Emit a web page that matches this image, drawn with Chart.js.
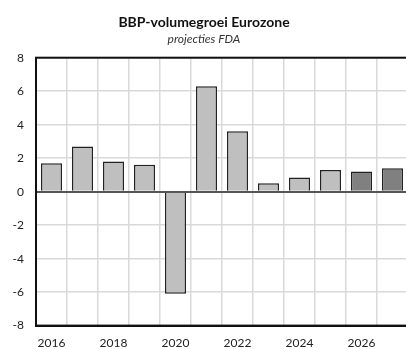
<!DOCTYPE html>
<html lang="nl">
<head>
    <meta charset="UTF-8">
    <title>BBP-volumegroei Eurozone</title>
    <script src="https://cdn.jsdelivr.net/npm/chart.js"></script>
    <style>
        html, body {
            margin: 0;
            padding: 0;
            background: #fff;
            overflow: hidden;
        }
        .chart-container {
            position: relative;
            width: 408px;
            height: 349px;
        }
    </style>
</head>
<body>

<div class="chart-container">
    <canvas id="myChart"></canvas>
</div>

<script>
    const years = ['2016', '2017', '2018', '2019', '2020', '2021', '2022', '2023', '2024', '2025', '2026', '2027'];
    const growth = [1.7, 2.7, 1.8, 1.6, -6.1, 6.3, 3.6, 0.5, 0.85, 1.3, 1.2, 1.4];
    const projected = [false, false, false, false, false, false, false, false, false, false, true, true];
    const yTicks = { min: -8, max: 8, step: 2 };

    // kader rond plotgebied (boven + rechts)
    const frame = {
        id: 'frame',
        afterDraw(chart) {
            const a = chart.chartArea;
            const c = chart.ctx;
            c.save();
            c.strokeStyle = '#111';
            c.lineWidth = 2;
            c.strokeRect(a.left, a.top, a.right - a.left, a.bottom - a.top);
            c.restore();
        }
    };

    Chart.defaults.font.family = 'Lato, "DejaVu Sans", sans-serif';
    Chart.defaults.color = '#222';

    new Chart(document.getElementById('myChart'), {
        type: 'bar',
        data: {
            labels: years,
            datasets: [{
                data: growth,
                backgroundColor: projected.map(p => p ? '#808080' : '#bfbfbf'),
                borderColor: '#222',
                borderWidth: 1.5,
                categoryPercentage: 1,
                barPercentage: 0.68
            }]
        },
        options: {
            responsive: true,
            maintainAspectRatio: false,
            animation: false,
            layout: { padding: { left: 0, right: 0, top: 6, bottom: -11 } },
            plugins: {
                legend: { display: false },
                tooltip: { enabled: false },
                title: {
                    display: true,
                    text: 'BBP-volumegroei Eurozone',
                    font: { size: 14, weight: 'bold' },
                    color: '#111',
                    padding: { top: 8, bottom: 1 }
                },
                subtitle: {
                    display: true,
                    text: 'projecties FDA',
                    font: { size: 12, style: 'italic' },
                    color: '#333',
                    padding: { top: 0, bottom: 11.5 }
                }
            },
            scales: {
                x: {
                    grid: {
                        offset: true,
                        color: '#d9d9d9',
                        lineWidth: 1.5,
                        drawTicks: false
                    },
                    border: { color: '#111', width: 2 },
                    ticks: {
                        autoSkip: false,
                        maxRotation: 0,
                        padding: 10,
                        font: { size: 12 },
                        callback: function(v, i) { return i % 2 === 0 ? this.getLabelForValue(v) : ''; }
                    }
                },
                y: {
                    min: yTicks.min,
                    max: yTicks.max,
                    afterFit: s => { s.width = 36; },
                    grid: {
                        color: c => c.tick.value === 0 ? '#555' : '#d9d9d9',
                        lineWidth: c => c.tick.value === 0 ? 2 : 1.5,
                        drawTicks: false
                    },
                    border: { color: '#111', width: 2 },
                    ticks: {
                        stepSize: yTicks.step,
                        padding: 12,
                        font: { size: 12 }
                    }
                }
            }
        },
        plugins: [frame]
    });
</script>

</body>
</html>
